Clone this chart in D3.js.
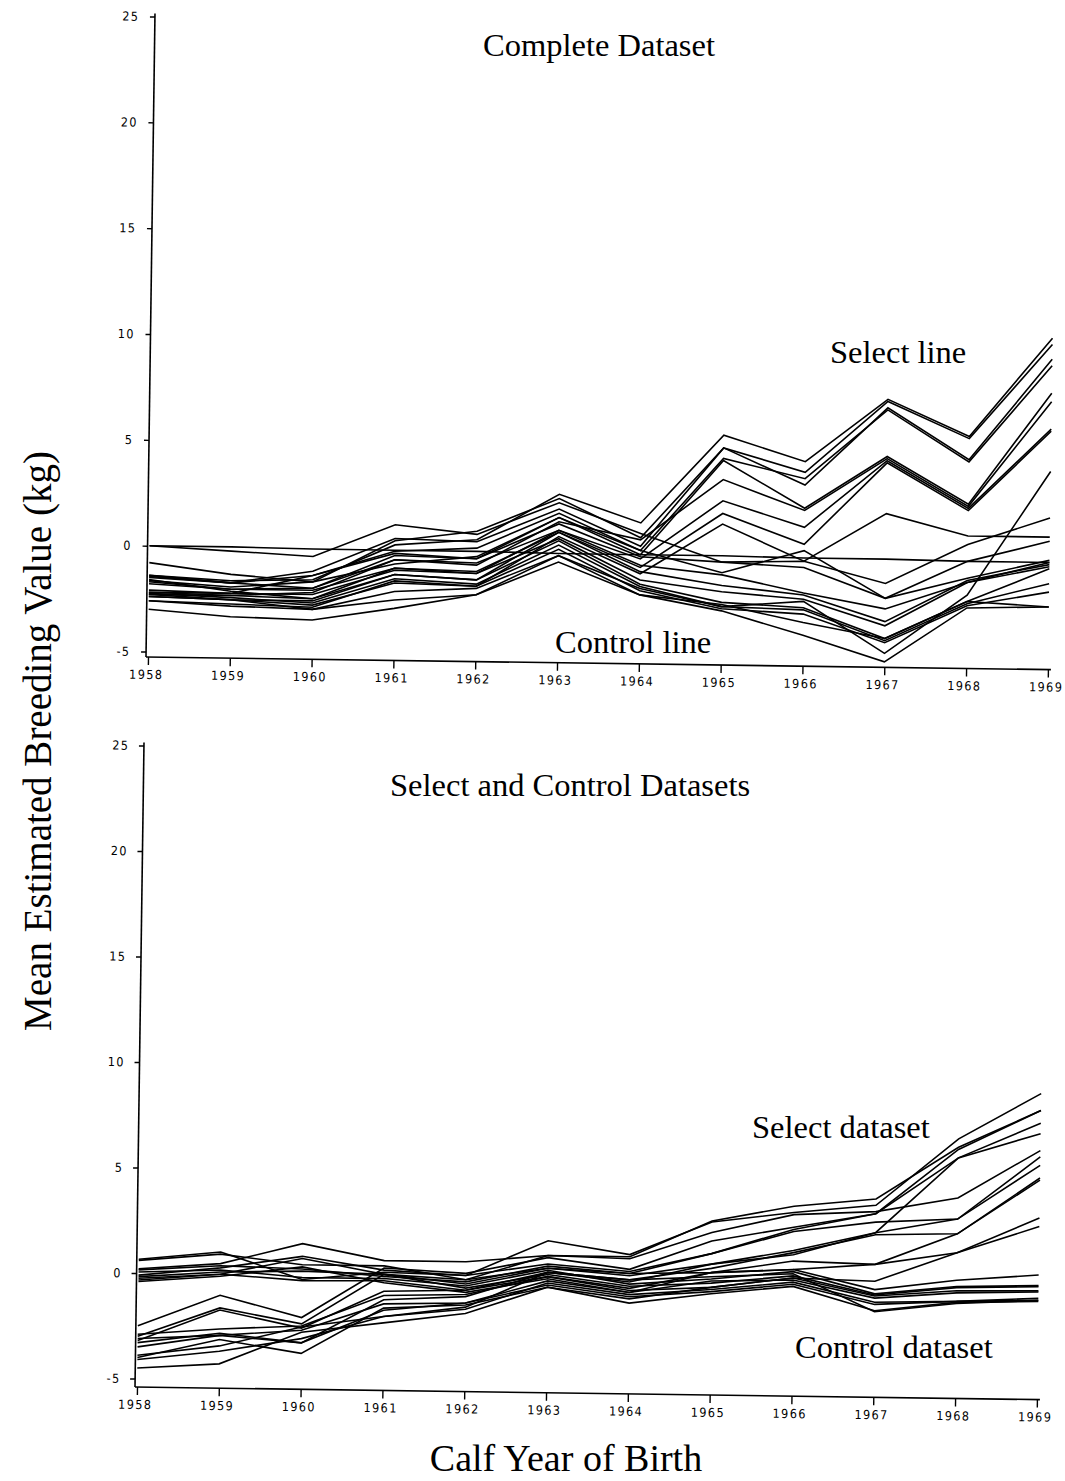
<!DOCTYPE html>
<html>
<head>
<meta charset="utf-8">
<script src="https://cdn.jsdelivr.net/npm/d3@7"></script>
<style>
  body { margin: 0; background: #fff; }
  svg { display: block; }
  .tick text { font-family: "DejaVu Sans Condensed", "Liberation Sans Narrow", sans-serif; font-size: 12.5px; letter-spacing: 1.4px; fill: #000; }
  .label { font-family: "Liberation Serif", "Times New Roman", serif; fill: #000; }
</style>
</head>
<body>
<svg id="chart" width="1065" height="1481"></svg>
<script>
// Calf year of birth (x axis)
const years = [1958, 1959, 1960, 1961, 1962, 1963, 1964, 1965, 1966, 1967, 1968, 1969];
// Mean estimated breeding value ticks (kg)
const valueTicks = [-5, 0, 5, 10, 15, 20, 25];

// Complete dataset: sires of the select line
const completeSelectLine = [
  [-1.4, -1.6, -1.5, 0.2, 0.5, 2.7, 1.4, 5.6, 4.4, 7.4, 5.7, 10.4],
  [-0.8, -1.3, -1.6, 0.4, 0.9, 2.5, 0.7, 5.0, 3.9, 7.3, 5.6, 10.1],
  [-1.5, -1.7, -1.1, 0.5, 0.4, 2.0, 0.3, 5.0, 3.3, 7.0, 4.6, 9.4],
  [-2.2, -2.2, -1.3, -0.1, 0.1, 1.8, 0.1, 4.5, 3.6, 6.9, 4.5, 9.1],
  [-1.7, -2.0, -1.9, -0.3, -0.4, 1.6, -0.1, 4.4, 2.2, 4.7, 2.5, 7.8],
  [-2.3, -2.3, -2.1, -0.5, -0.7, 1.4, 0.6, 3.5, 2.1, 4.6, 2.4, 7.4],
  [-1.6, -2.1, -2.4, -0.9, -1.1, 1.0, -0.3, 2.5, 1.3, 4.5, 2.3, 6.1],
  [-2.4, -2.5, -2.5, -1.2, -1.4, 0.9, -0.7, 1.9, 0.5, 4.4, 2.2, 6.0],
  [-2.6, -2.7, -2.8, -1.5, -1.7, 0.7, -1.0, 1.4, -0.3, 2.0, 1.0, 1.0],
  [0.0, -0.2, -0.4, 1.15, 0.75, 2.3, 0.9, -0.4, -0.3, -1.3, 0.6, 1.9]
];
// Complete dataset: sires of the control line
const completeControlLine = [
  [-1.4, -1.7, -1.3, -0.2, -0.4, 1.3, -0.2, -0.4, -0.6, -2.0, -1.0, -0.1],
  [-1.45, -1.7, -1.9, -0.5, -0.6, 1.0, -0.6, -1.0, -1.8, -2.5, -1.2, -0.2],
  [-1.8, -2.0, -2.0, -0.9, -1.0, 0.9, -0.9, -1.5, -1.9, -3.1, -1.1, -0.3],
  [-2.1, -2.2, -2.2, -1.0, -1.1, 0.6, -1.3, -1.8, -2.1, -3.3, -1.2, -0.4],
  [-2.2, -2.3, -2.4, -1.2, -1.4, 0.5, -1.5, -2.3, -2.5, -3.9, -2.1, -0.5],
  [-2.25, -2.4, -2.6, -1.4, -1.6, 0.3, -1.6, -2.5, -2.6, -4.0, -2.2, -1.2],
  [-2.3, -2.5, -2.7, -1.6, -1.7, 0.1, -1.8, -2.6, -2.8, -4.1, -2.3, -1.6],
  [-2.4, -2.5, -2.9, -2.4, -2.1, -0.2, -2.0, -2.4, -3.2, -3.9, -2.1, -2.3],
  [-3.0, -3.3, -3.4, -2.8, -2.1, -0.5, -2.0, -2.7, -3.8, -5.0, -2.4, -2.3],
  [-2.6, -2.8, -2.9, -2.0, -1.8, -0.2, -1.7, -2.5, -2.2, -4.6, -1.8, 4.1],
  [-1.65, -1.9, -1.6, -0.7, -0.3, 1.6, 0.1, -0.9, 0.2, -2.0, -0.2, 0.8],
  [0.0, 0.0, -0.05, -0.05, -0.05, -0.1, -0.1, -0.1, -0.15, -0.15, -0.2, -0.2]
];

// Separate analyses: select dataset
const selectDataset = [
  [0.65, 1.05, -0.2, 0.2, 0.1, 1.8, 1.2, 2.8, 3.3, 3.7, 6.9, 9.1],
  [0.2, 0.5, 1.5, 0.75, 0.75, 1.1, 1.1, 2.85, 3.6, 4.0, 6.5, 8.3],
  [-0.1, 0.3, 0.9, 0.3, 0.1, 0.7, 0.4, 1.3, 2.5, 3.3, 6.0, 7.7],
  [0.6, 0.95, 0.5, 0.5, -0.1, 1.1, 1.0, 2.3, 3.2, 3.4, 4.1, 6.4],
  [-0.25, 0.0, 0.8, 0.1, -0.3, 0.5, 0.3, 1.3, 2.4, 2.9, 3.1, 5.7],
  [-2.5, -1.0, -2.0, 0.4, 0.2, 1.0, 0.5, 1.9, 2.6, 3.3, 6.4, 8.3],
  [-3.0, -1.6, -2.3, 0.1, -0.1, 0.5, 0.2, 0.8, 1.5, 2.4, 6.0, 7.2],
  [-3.2, -1.7, -2.5, -0.7, -0.6, 0.3, -0.1, 0.8, 1.3, 2.4, 3.1, 6.1],
  [-2.9, -2.6, -2.4, -0.9, -0.8, 0.1, -0.4, 0.4, 1.0, 0.9, 2.4, 5.1],
  [-3.3, -2.8, -3.2, -1.1, -0.9, 0.3, 0.0, 0.6, 1.4, 2.3, 2.4, 5.0],
  [-3.5, -2.9, -2.6, -1.3, -1.2, -0.1, -0.6, 0.4, 0.6, 0.9, 1.5, 3.2],
  [-4.0, -3.1, -3.7, -1.5, -1.3, -0.4, -0.9, -0.3, 0.2, 0.1, 1.5, 2.8]
];
// Separate analyses: control dataset
const controlDataset = [
  [0.15, 0.4, 0.3, 0.0, -0.2, 0.6, 0.3, 0.4, 0.6, -0.3, 0.2, 0.5],
  [0.05, 0.2, -0.1, -0.1, -0.4, 0.4, -0.2, 0.1, 0.5, -0.5, -0.1, 0.0],
  [-0.17, 0.1, 0.2, 0.1, -0.5, 0.2, -0.3, -0.1, 0.3, -0.55, -0.15, -0.05],
  [-0.33, 0.0, -0.25, -0.2, -0.6, 0.1, -0.5, -0.3, 0.2, -0.6, -0.3, -0.25],
  [-0.4, -0.1, 0.4, -0.3, -0.7, 0.0, -0.6, 0.0, 0.1, -0.7, -0.4, -0.3],
  [-4.1, -3.65, -3.0, -1.9, -1.5, -0.2, -0.7, -0.4, 0.0, -0.9, -0.8, -0.6],
  [-3.1, -2.9, -3.2, -1.6, -1.2, -0.3, -0.8, -0.5, -0.1, -1.0, -0.8, -0.7],
  [-4.5, -4.25, -2.7, -2.2, -1.7, -0.4, -1.1, -0.6, -0.2, -1.3, -0.85, -0.75],
  [-3.9, -3.4, -2.45, -1.9, -1.4, 0.3, 0.0, 0.2, 0.4, -1.35, -0.9, -0.7]
];

const svg = d3.select("#chart");

function drawPanel(series, frame) {
  const g = svg.append("g")
    .attr("transform", `rotate(${frame.tilt}, ${frame.axisX}, ${frame.axisY})`);

  const x = d3.scalePoint().domain(years).range([frame.left, frame.right]);
  const y = d3.scaleLinear().domain([-5, 25]).range([frame.bottom, frame.top]);

  // axis lines
  g.append("line")
    .attr("x1", frame.axisX).attr("x2", frame.axisX)
    .attr("y1", y(25) - 3).attr("y2", frame.axisY)
    .attr("stroke", "#000").attr("stroke-width", 1.6);
  g.append("line")
    .attr("x1", frame.axisX).attr("x2", x(1969) + 3)
    .attr("y1", frame.axisY).attr("y2", frame.axisY)
    .attr("stroke", "#000").attr("stroke-width", 1.6);

  const yAxis = g.append("g")
    .attr("transform", `translate(${frame.axisX},0)`)
    .call(d3.axisLeft(y).tickValues(valueTicks).tickSize(5).tickSizeOuter(0).tickPadding(frame.labelGap)
      .tickFormat(d => d < 0 ? "-" + Math.abs(d) : d));
  yAxis.select(".domain").remove();

  const xAxis = g.append("g")
    .attr("transform", `translate(0,${frame.axisY})`)
    .call(d3.axisBottom(x).tickSize(8).tickSizeOuter(0).tickPadding(5).tickFormat(d3.format("d")));
  xAxis.select(".domain").remove();

  g.selectAll(".tick line").attr("stroke", "#000").attr("stroke-width", 1.4);
  g.selectAll(".tick text").attr("font-size", null);
  xAxis.selectAll(".tick text").attr("dx", "-2px");
  yAxis.selectAll(".tick text").attr("dx", "1.4px");

  const line = d3.line()
    .x((d, i) => x(years[i]))
    .y(d => y(d));

  g.append("g").selectAll("path")
    .data(series)
    .join("path")
    .attr("d", line)
    .attr("fill", "none")
    .attr("stroke", "#000")
    .attr("stroke-width", 1.6)
    .attr("stroke-linejoin", "miter");
}

drawPanel(completeSelectLine.concat(completeControlLine), {
  left: 148, right: 1048, top: 16.5, bottom: 651.5, axisX: 146, axisY: 657, tilt: 0.8, labelGap: 12
});
drawPanel(selectDataset.concat(controlDataset), {
  left: 137, right: 1037, top: 745.5, bottom: 1378.5, axisX: 135, axisY: 1387, tilt: 0.8, labelGap: 11
});

// titles and annotations
const labels = [
  { text: "Complete Dataset", x: 483, y: 56 },
  { text: "Select line", x: 830, y: 363 },
  { text: "Control line", x: 555, y: 653 },
  { text: "Select and Control Datasets", x: 390, y: 796 },
  { text: "Select dataset", x: 752, y: 1138 },
  { text: "Control dataset", x: 795, y: 1358 }
];
svg.selectAll("text.annot")
  .data(labels)
  .join("text")
  .attr("class", "label annot")
  .attr("x", d => d.x)
  .attr("y", d => d.y)
  .attr("font-size", 32.5)
  .text(d => d.text);

svg.append("text")
  .attr("class", "label")
  .attr("x", 566).attr("y", 1471)
  .attr("text-anchor", "middle")
  .attr("font-size", 38)
  .text("Calf Year of Birth");

svg.append("text")
  .attr("class", "label")
  .attr("transform", "translate(51,741) rotate(-90)")
  .attr("text-anchor", "middle")
  .attr("font-size", 39)
  .text("Mean Estimated Breeding Value (kg)");
</script>
</body>
</html>
